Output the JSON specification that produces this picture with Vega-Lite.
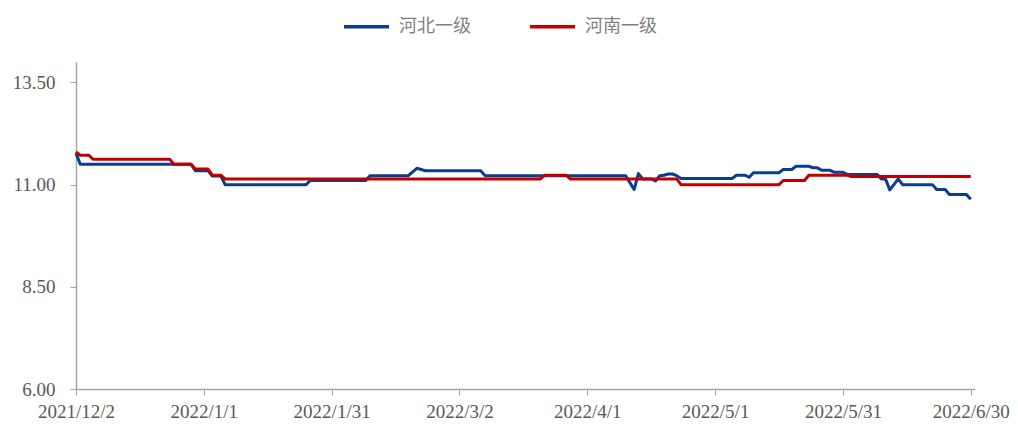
{
  "$schema": "https://vega.github.io/schema/vega-lite/v6.json",
  "width": 899,
  "height": 327,
  "autosize": {"type": "none"},
  "padding": {"left": 76, "top": 62, "right": 43, "bottom": 38},
  "background": "white",
  "config": {"view": {"stroke": null}, "font": "Liberation Serif"},
  "data": {
    "values": [
      {"date": "2021-12-02", "series": "河北一级", "value": 11.77},
      {"date": "2021-12-03", "series": "河北一级", "value": 11.50},
      {"date": "2021-12-29", "series": "河北一级", "value": 11.50},
      {"date": "2021-12-30", "series": "河北一级", "value": 11.34},
      {"date": "2022-01-02", "series": "河北一级", "value": 11.34},
      {"date": "2022-01-03", "series": "河北一级", "value": 11.21},
      {"date": "2022-01-05", "series": "河北一级", "value": 11.21},
      {"date": "2022-01-06", "series": "河北一级", "value": 11.00},
      {"date": "2022-01-25", "series": "河北一级", "value": 11.00},
      {"date": "2022-01-26", "series": "河北一级", "value": 11.10},
      {"date": "2022-02-08", "series": "河北一级", "value": 11.10},
      {"date": "2022-02-09", "series": "河北一级", "value": 11.22},
      {"date": "2022-02-18", "series": "河北一级", "value": 11.22},
      {"date": "2022-02-20", "series": "河北一级", "value": 11.40},
      {"date": "2022-02-22", "series": "河北一级", "value": 11.34},
      {"date": "2022-03-07", "series": "河北一级", "value": 11.34},
      {"date": "2022-03-08", "series": "河北一级", "value": 11.22},
      {"date": "2022-04-10", "series": "河北一级", "value": 11.22},
      {"date": "2022-04-12", "series": "河北一级", "value": 10.88},
      {"date": "2022-04-13", "series": "河北一级", "value": 11.27},
      {"date": "2022-04-14", "series": "河北一级", "value": 11.14},
      {"date": "2022-04-16", "series": "河北一级", "value": 11.14},
      {"date": "2022-04-17", "series": "河北一级", "value": 11.09},
      {"date": "2022-04-18", "series": "河北一级", "value": 11.22},
      {"date": "2022-04-19", "series": "河北一级", "value": 11.23},
      {"date": "2022-04-20", "series": "河北一级", "value": 11.26},
      {"date": "2022-04-21", "series": "河北一级", "value": 11.26},
      {"date": "2022-04-22", "series": "河北一级", "value": 11.22},
      {"date": "2022-04-23", "series": "河北一级", "value": 11.15},
      {"date": "2022-05-05", "series": "河北一级", "value": 11.15},
      {"date": "2022-05-06", "series": "河北一级", "value": 11.23},
      {"date": "2022-05-08", "series": "河北一级", "value": 11.23},
      {"date": "2022-05-09", "series": "河北一级", "value": 11.18},
      {"date": "2022-05-10", "series": "河北一级", "value": 11.29},
      {"date": "2022-05-16", "series": "河北一级", "value": 11.29},
      {"date": "2022-05-17", "series": "河北一级", "value": 11.37},
      {"date": "2022-05-19", "series": "河北一级", "value": 11.37},
      {"date": "2022-05-20", "series": "河北一级", "value": 11.45},
      {"date": "2022-05-23", "series": "河北一级", "value": 11.45},
      {"date": "2022-05-24", "series": "河北一级", "value": 11.41},
      {"date": "2022-05-25", "series": "河北一级", "value": 11.41},
      {"date": "2022-05-26", "series": "河北一级", "value": 11.35},
      {"date": "2022-05-28", "series": "河北一级", "value": 11.35},
      {"date": "2022-05-29", "series": "河北一级", "value": 11.30},
      {"date": "2022-05-31", "series": "河北一级", "value": 11.30},
      {"date": "2022-06-01", "series": "河北一级", "value": 11.25},
      {"date": "2022-06-08", "series": "河北一级", "value": 11.25},
      {"date": "2022-06-09", "series": "河北一级", "value": 11.14},
      {"date": "2022-06-10", "series": "河北一级", "value": 11.14},
      {"date": "2022-06-11", "series": "河北一级", "value": 10.87},
      {"date": "2022-06-13", "series": "河北一级", "value": 11.14},
      {"date": "2022-06-14", "series": "河北一级", "value": 11.00},
      {"date": "2022-06-21", "series": "河北一级", "value": 11.00},
      {"date": "2022-06-22", "series": "河北一级", "value": 10.88},
      {"date": "2022-06-24", "series": "河北一级", "value": 10.88},
      {"date": "2022-06-25", "series": "河北一级", "value": 10.76},
      {"date": "2022-06-29", "series": "河北一级", "value": 10.76},
      {"date": "2022-06-30", "series": "河北一级", "value": 10.64},
      {"date": "2021-12-02", "series": "河南一级", "value": 11.80},
      {"date": "2021-12-03", "series": "河南一级", "value": 11.72},
      {"date": "2021-12-05", "series": "河南一级", "value": 11.72},
      {"date": "2021-12-06", "series": "河南一级", "value": 11.62},
      {"date": "2021-12-24", "series": "河南一级", "value": 11.62},
      {"date": "2021-12-25", "series": "河南一级", "value": 11.50},
      {"date": "2021-12-29", "series": "河南一级", "value": 11.50},
      {"date": "2021-12-30", "series": "河南一级", "value": 11.38},
      {"date": "2022-01-02", "series": "河南一级", "value": 11.38},
      {"date": "2022-01-03", "series": "河南一级", "value": 11.23},
      {"date": "2022-01-05", "series": "河南一级", "value": 11.23},
      {"date": "2022-01-06", "series": "河南一级", "value": 11.14},
      {"date": "2022-03-21", "series": "河南一级", "value": 11.14},
      {"date": "2022-03-22", "series": "河南一级", "value": 11.23},
      {"date": "2022-03-27", "series": "河南一级", "value": 11.23},
      {"date": "2022-03-28", "series": "河南一级", "value": 11.14},
      {"date": "2022-04-22", "series": "河南一级", "value": 11.14},
      {"date": "2022-04-23", "series": "河南一级", "value": 11.00},
      {"date": "2022-05-16", "series": "河南一级", "value": 11.00},
      {"date": "2022-05-17", "series": "河南一级", "value": 11.10},
      {"date": "2022-05-22", "series": "河南一级", "value": 11.10},
      {"date": "2022-05-23", "series": "河南一级", "value": 11.23},
      {"date": "2022-06-01", "series": "河南一级", "value": 11.23},
      {"date": "2022-06-02", "series": "河南一级", "value": 11.20},
      {"date": "2022-06-30", "series": "河南一级", "value": 11.20}
    ]
  },
  "mark": {"type": "line", "strokeWidth": 3, "strokeJoin": "round"},
  "encoding": {
    "x": {
      "field": "date",
      "type": "temporal",
      "scale": {
        "type": "utc",
        "domain": [
          {"year": 2021, "month": 12, "date": 2, "utc": true},
          {"year": 2022, "month": 7, "date": 1, "utc": true}
        ]
      },
      "axis": {
        "title": null,
        "grid": false,
        "values": [
          {"year": 2021, "month": 12, "date": 2, "utc": true},
          {"year": 2022, "month": 1, "date": 1, "utc": true},
          {"year": 2022, "month": 1, "date": 31, "utc": true},
          {"year": 2022, "month": 3, "date": 2, "utc": true},
          {"year": 2022, "month": 4, "date": 1, "utc": true},
          {"year": 2022, "month": 5, "date": 1, "utc": true},
          {"year": 2022, "month": 5, "date": 31, "utc": true},
          {"year": 2022, "month": 6, "date": 30, "utc": true}
        ],
        "labelExpr": "utcFormat(datum.value, '%Y/%-m/%-d')",
        "labelAngle": 0,
        "labelFlush": false,
        "labelOverlap": false,
        "labelFont": "Liberation Serif",
        "labelFontSize": 19,
        "labelColor": "#595959",
        "labelPadding": 7,
        "tickSize": 6,
        "tickColor": "#a6a6a6",
        "domainColor": "#a6a6a6",
        "domainWidth": 1.5
      }
    },
    "y": {
      "field": "value",
      "type": "quantitative",
      "scale": {"domain": [6, 14], "nice": false, "zero": false},
      "axis": {
        "title": null,
        "grid": false,
        "values": [6, 8.5, 11, 13.5],
        "format": ".2f",
        "labelFont": "Liberation Serif",
        "labelFontSize": 19,
        "labelColor": "#595959",
        "labelPadding": 15,
        "tickSize": 6,
        "tickColor": "#a6a6a6",
        "domainColor": "#a6a6a6",
        "domainWidth": 1.5
      }
    },
    "color": {
      "field": "series",
      "type": "nominal",
      "scale": {"domain": ["河北一级", "河南一级"], "range": ["#0a3d8f", "#c00000"]},
      "legend": {
        "title": null,
        "orient": "none",
        "legendX": 266,
        "legendY": -60,
        "direction": "horizontal",
        "symbolType": "stroke",
        "symbolSize": 2025,
        "symbolStrokeWidth": 3.5,
        "labelFont": "Noto Sans CJK SC",
        "labelFontSize": 18,
        "labelColor": "#808080",
        "labelOffset": 8,
        "columnPadding": 52
      }
    }
  }
}
